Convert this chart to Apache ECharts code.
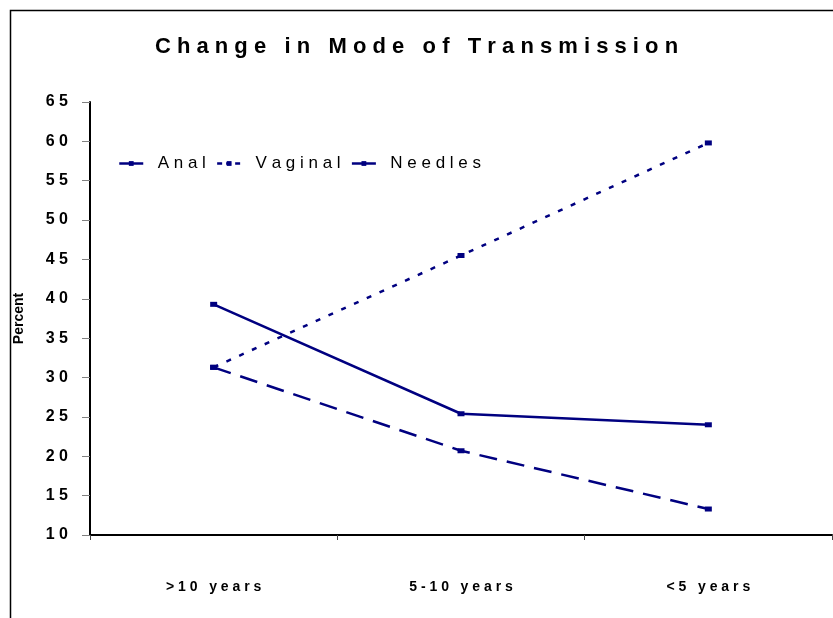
<!DOCTYPE html>
<html lang="en">
<head>
    <meta charset="UTF-8">
    <title>Change in Mode of Transmission</title>
    <script src="https://cdn.jsdelivr.net/npm/echarts@6/dist/echarts.min.js"></script>
    <style>
        html, body { margin: 0; padding: 0; background: #fff; }
    </style>
</head>
<body>
<div id="main" style="width: 833px;height:618px;"></div>
<script type="text/javascript">
    // categories and values
    var periods = [">10 years", "5-10 years", "<5 years"];
    var anal = [31.3, 20.7, 13.3];
    var vaginal = [31.3, 45.5, 59.8];
    var needles = [39.3, 25.4, 24.0];
    var yTicks = {min: 10, max: 65, interval: 5};

    var navy = "#000080";
    var font = "Liberation Sans, Arial, sans-serif";

    // fake letter spacing: spaces between chars, wider gap between words
    function spaced(s) {
        return s.split(" ").map(function (w) {
            return w.split("").join(" ");
        }).join("   ");
    }

    var dashes = {Anal: [18, 10], Vaginal: [5, 9], Needles: "solid"};
    // legend swatch is short, the long anal dash shows as a solid bit there
    var legendDashes = {Anal: "solid", Vaginal: [5, 4], Needles: "solid"};

    var myChart = echarts.init(document.getElementById('main'));

    function lineSeries(name, data) {
        return {
            name: name,
            type: "line",
            data: data,
            symbol: "rect",
            symbolSize: [7, 5],
            itemStyle: {color: navy},
            lineStyle: {color: navy, width: 2.5, type: dashes[name]},
            animation: false
        };
    }

    myChart.setOption({
        backgroundColor: "#fff",
        title: {
            text: spaced("Change in Mode of Transmission"),
            left: "center",
            top: 31,
            textStyle: {fontFamily: font, fontSize: 22, fontWeight: "bold", color: "#000"}
        },
        legend: {
            left: 113,
            top: 150,
            itemWidth: 24,
            itemHeight: 6,
            itemGap: 10,
            formatter: function (name) {
                return "  " + spaced(name);
            },
            textStyle: {fontFamily: font, fontSize: 17, color: "#000"},
            data: ["Anal", "Vaginal", "Needles"].map(function (n) {
                return {name: n, lineStyle: {type: legendDashes[n], width: 2.5, color: navy}};
            })
        },
        grid: {left: 90, right: 1, top: 102, bottom: 83},
        xAxis: {
            type: "category",
            data: periods,
            boundaryGap: true,
            axisLine: {lineStyle: {color: "#000", width: 2}},
            axisTick: {show: true, length: 5, lineStyle: {color: "#444"}},
            axisLabel: {
                margin: 45,
                fontFamily: font,
                fontSize: 14,
                fontWeight: "bold",
                color: "#000",
                formatter: function (v) { return spaced(v); }
            }
        },
        yAxis: {
            type: "value",
            min: yTicks.min,
            max: yTicks.max,
            interval: yTicks.interval,
            name: "Percent",
            nameLocation: "middle",
            nameGap: 64,
            nameTextStyle: {fontFamily: font, fontSize: 14, fontWeight: "bold", color: "#000"},
            axisLine: {show: true, lineStyle: {color: "#000", width: 2}},
            axisTick: {show: true, length: 8, lineStyle: {color: "#808080"}},
            splitLine: {show: false},
            axisLabel: {
                margin: 22,
                fontFamily: font,
                fontSize: 16,
                fontWeight: "bold",
                color: "#000",
                formatter: function (v) { return spaced(String(v)); }
            }
        },
        graphic: [{
            type: "rect",
            left: 8,
            top: 8,
            shape: {width: 900, height: 700},
            style: {fill: "none", stroke: "#000", lineWidth: 1.5},
            silent: true
        }],
        series: [
            lineSeries("Anal", anal),
            lineSeries("Vaginal", vaginal),
            lineSeries("Needles", needles)
        ]
    });
</script>
</body>
</html>
